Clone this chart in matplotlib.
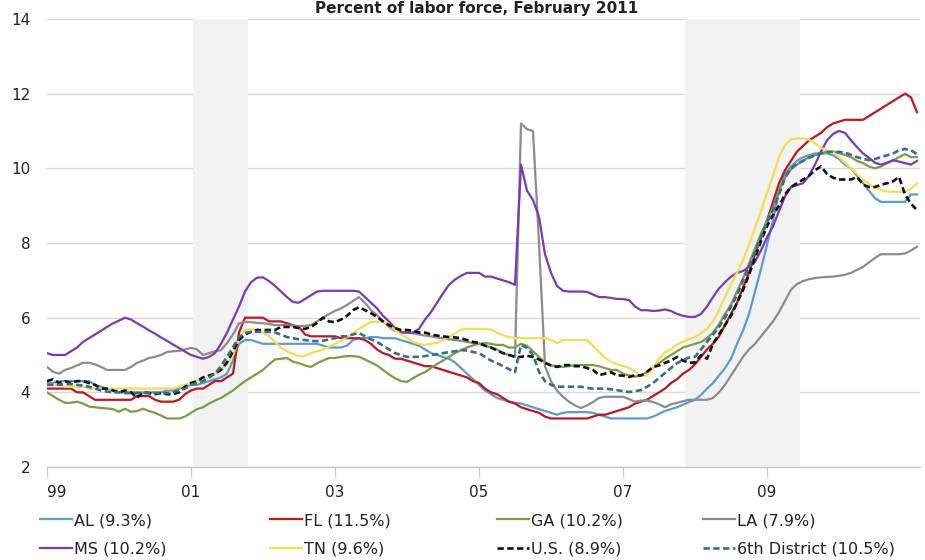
import numpy as np
import matplotlib
matplotlib.use("Agg")
import matplotlib.pyplot as plt
from matplotlib import font_manager

names = {f.name for f in font_manager.fontManager.ttflist}
FONT = "Liberation Sans Narrow" if "Liberation Sans Narrow" in names else "DejaVu Sans"
plt.rcParams["font.family"] = [FONT, "DejaVu Sans"]

# ---- data: monthly unemployment rates, Jan 1999 .. Feb 2011 ----
tick_years = ["99", "01", "03", "05", "07", "09"]
recessions = [(24.3, 33.5), (106.3, 125.5)]  # in months since Jan 1999

al = [
    4.25, 4.25, 4.3, 4.3, 4.3, 4.3, 4.3, 4.3, 4.2, 4.15, 4.1, 4.05,
    4.0, 4.0, 4.0, 4.0, 4.0, 4.0, 4.0, 4.0, 4.05, 4.05, 4.1, 4.15,
    4.2, 4.2, 4.25, 4.3, 4.35, 4.4, 4.5, 4.85, 5.3, 5.4, 5.4, 5.35,
    5.3, 5.3, 5.3, 5.3, 5.3, 5.3, 5.3, 5.3, 5.3, 5.3, 5.25, 5.2,
    5.2, 5.2, 5.25, 5.4, 5.45, 5.45, 5.48, 5.48, 5.45, 5.45, 5.45, 5.4,
    5.35, 5.3, 5.25, 5.15, 5.05, 5.0, 4.95, 4.9, 4.8, 4.65, 4.5, 4.35,
    4.2, 4.05, 3.95, 3.85, 3.8, 3.75, 3.72, 3.7, 3.65, 3.6, 3.55, 3.5,
    3.45, 3.4, 3.45, 3.47, 3.47, 3.47, 3.47, 3.45, 3.4, 3.35, 3.3, 3.3,
    3.3, 3.3, 3.3, 3.3, 3.3, 3.35, 3.42, 3.5, 3.55, 3.6, 3.67, 3.74,
    3.8, 3.93, 4.1, 4.25, 4.45, 4.65, 4.9, 5.3, 5.65, 6.1, 6.7, 7.3,
    7.95, 8.6, 9.4, 9.85, 10.05, 10.2, 10.3, 10.35, 10.4, 10.4, 10.4, 10.35,
    10.25, 10.1, 10.0, 9.8, 9.6, 9.4, 9.2, 9.1, 9.1, 9.1, 9.1, 9.1,
    9.3, 9.3]

fl = [
    4.1, 4.1, 4.1, 4.1, 4.1, 4.0, 4.0, 3.9, 3.8, 3.8, 3.8, 3.8,
    3.8, 3.8, 3.8, 3.9, 3.9, 3.9, 3.8, 3.75, 3.75, 3.75, 3.8, 3.95,
    4.05, 4.1, 4.1, 4.2, 4.3, 4.3, 4.4, 4.5, 5.6, 6.0, 6.0, 6.0,
    6.0, 5.9, 5.9, 5.9, 5.85, 5.8, 5.75, 5.55, 5.5, 5.5, 5.5, 5.5,
    5.5, 5.45, 5.45, 5.45, 5.45, 5.4, 5.3, 5.15, 5.05, 5.0, 4.9, 4.9,
    4.85, 4.8, 4.75, 4.7, 4.7, 4.65, 4.6, 4.55, 4.5, 4.45, 4.4, 4.3,
    4.25, 4.1, 4.0, 3.95, 3.85, 3.75, 3.7, 3.6, 3.55, 3.5, 3.45, 3.35,
    3.3, 3.3, 3.3, 3.3, 3.3, 3.3, 3.3, 3.35, 3.4, 3.4, 3.45, 3.5,
    3.55, 3.6, 3.7, 3.75, 3.8, 3.9, 4.0, 4.1, 4.25, 4.35, 4.5, 4.6,
    4.75, 4.95, 5.15, 5.3, 5.5, 5.8, 6.1, 6.4, 6.8, 7.2, 7.7, 8.15,
    8.6, 9.1, 9.6, 9.95, 10.2, 10.45, 10.6, 10.75, 10.85, 10.95, 11.1, 11.2,
    11.25, 11.3, 11.3, 11.3, 11.3, 11.4, 11.5, 11.6, 11.7, 11.8, 11.9, 12.0,
    11.9, 11.5]

ga = [
    4.0, 3.9, 3.8, 3.72, 3.72, 3.75, 3.7, 3.62, 3.6, 3.58, 3.57, 3.55,
    3.48, 3.56, 3.48, 3.5, 3.56, 3.5, 3.45, 3.38, 3.3, 3.3, 3.3, 3.35,
    3.45, 3.55, 3.6, 3.7, 3.78, 3.85, 3.95, 4.05, 4.18, 4.3, 4.4, 4.5,
    4.6, 4.75, 4.88, 4.9, 4.92, 4.82, 4.78, 4.72, 4.68, 4.78, 4.85, 4.92,
    4.92, 4.95, 4.97, 4.97, 4.95, 4.88, 4.8, 4.72, 4.6, 4.48, 4.38, 4.3,
    4.28, 4.38, 4.47, 4.54, 4.65, 4.76, 4.85, 4.95, 5.05, 5.13, 5.2, 5.26,
    5.3, 5.32, 5.3, 5.27, 5.27, 5.2, 5.2, 5.3, 5.25, 5.1, 4.95, 4.8,
    4.72, 4.7, 4.68, 4.7, 4.73, 4.73, 4.73, 4.73, 4.7, 4.65, 4.6, 4.6,
    4.5, 4.45, 4.42, 4.45, 4.55, 4.65, 4.78, 4.9, 5.0, 5.1, 5.2, 5.25,
    5.3, 5.35, 5.45, 5.6, 5.82, 6.1, 6.35, 6.7, 7.05, 7.45, 7.85, 8.25,
    8.6, 8.95, 9.4, 9.75, 9.97, 10.1, 10.2, 10.3, 10.35, 10.4, 10.45, 10.45,
    10.4, 10.36, 10.3, 10.2, 10.14, 10.05, 10.0, 10.05, 10.14, 10.2, 10.3, 10.38,
    10.3, 10.3]

la = [
    4.68, 4.55, 4.5, 4.6, 4.65, 4.72, 4.79, 4.79, 4.75, 4.68, 4.6, 4.6,
    4.6, 4.6, 4.68, 4.79, 4.85, 4.92, 4.95, 5.0, 5.08, 5.1, 5.11, 5.15,
    5.19, 5.15, 5.0, 5.05, 5.1, 5.13, 5.32, 5.55, 5.85, 5.89, 5.88, 5.86,
    5.85, 5.83, 5.8, 5.8, 5.8, 5.78, 5.78, 5.78, 5.8, 5.9, 6.0, 6.1,
    6.18, 6.25, 6.34, 6.45, 6.55, 6.4, 6.2, 6.07, 5.9, 5.75, 5.65, 5.62,
    5.6, 5.58, 5.55, 5.52, 5.5, 5.47, 5.45, 5.42, 5.4, 5.38, 5.35, 5.32,
    5.3, 5.25, 5.2, 5.15, 5.05, 5.0, 4.95, 11.2, 11.05, 11.0, 8.0, 4.7,
    4.3, 4.05, 3.88, 3.75, 3.65, 3.58, 3.65, 3.74, 3.85, 3.88, 3.88, 3.88,
    3.88, 3.82, 3.75, 3.78, 3.78, 3.74, 3.68, 3.6, 3.68, 3.72, 3.76, 3.8,
    3.8, 3.8, 3.8, 3.85, 4.0, 4.2, 4.45, 4.7, 4.95, 5.15, 5.3, 5.5,
    5.7, 5.9, 6.15, 6.45, 6.75, 6.9, 6.98, 7.03, 7.06, 7.08, 7.09, 7.1,
    7.12, 7.15, 7.2, 7.28, 7.36, 7.48, 7.6, 7.7, 7.7, 7.7, 7.7, 7.72,
    7.8, 7.9]

ms = [
    5.05, 5.0, 5.0, 5.0, 5.1, 5.2, 5.35, 5.45, 5.55, 5.65, 5.75, 5.85,
    5.92, 6.0, 5.95, 5.85, 5.76, 5.66, 5.57, 5.47, 5.38, 5.28, 5.19, 5.09,
    5.0, 4.95, 4.9, 4.95, 5.05, 5.3, 5.6, 5.95, 6.3, 6.7, 6.95, 7.07,
    7.08, 6.98, 6.85, 6.7, 6.55, 6.42, 6.4, 6.5, 6.6, 6.7, 6.72, 6.72,
    6.72, 6.72, 6.72, 6.72, 6.7, 6.55, 6.4, 6.25, 6.05, 5.9, 5.72, 5.6,
    5.6, 5.6, 5.7, 5.95, 6.15, 6.4, 6.65, 6.88, 7.02, 7.12, 7.2, 7.2,
    7.2, 7.1, 7.1, 7.05, 7.0, 6.95, 6.88, 10.1, 9.4, 9.15, 8.7, 7.7,
    7.2, 6.85, 6.72, 6.7, 6.7, 6.7, 6.69, 6.62, 6.55, 6.55, 6.53, 6.5,
    6.5, 6.47, 6.3, 6.2, 6.2, 6.18, 6.19, 6.22, 6.18, 6.1, 6.05, 6.02,
    6.02, 6.1, 6.3, 6.55, 6.78, 6.95, 7.1, 7.2, 7.25, 7.36, 7.5, 7.8,
    8.15, 8.45, 8.85, 9.25, 9.5, 9.55, 9.6, 9.8, 10.1, 10.45, 10.75, 10.92,
    11.0, 10.95, 10.75, 10.57, 10.4, 10.28, 10.15, 10.1, 10.15, 10.22, 10.18, 10.14,
    10.1, 10.2]

tn = [
    4.2, 4.2, 4.2, 4.15, 4.15, 4.15, 4.15, 4.1, 4.1, 4.1, 4.1, 4.1,
    4.1, 4.1, 4.1, 4.1, 4.1, 4.1, 4.1, 4.1, 4.1, 4.1, 4.15, 4.2,
    4.25, 4.3, 4.35, 4.4, 4.5, 4.6, 4.75, 5.0, 5.4, 5.67, 5.7, 5.67,
    5.6, 5.5, 5.35, 5.2, 5.1, 5.03, 4.97, 4.97, 5.05, 5.1, 5.15, 5.22,
    5.3, 5.38, 5.48, 5.58, 5.7, 5.8, 5.89, 5.89, 5.89, 5.8, 5.67, 5.55,
    5.45, 5.35, 5.3, 5.27, 5.3, 5.32, 5.4, 5.48, 5.58, 5.68, 5.7, 5.7,
    5.7, 5.7, 5.68, 5.6, 5.53, 5.48, 5.45, 5.45, 5.45, 5.45, 5.45, 5.45,
    5.4, 5.32, 5.4, 5.4, 5.4, 5.4, 5.4, 5.25, 5.08, 4.93, 4.82, 4.75,
    4.7, 4.66, 4.55, 4.45, 4.45, 4.65, 4.9, 5.07, 5.15, 5.28, 5.36, 5.42,
    5.48, 5.58, 5.7, 5.9, 6.2, 6.55, 6.9, 7.2, 7.54, 7.95, 8.4, 8.85,
    9.34, 9.8, 10.3, 10.62, 10.78, 10.8, 10.8, 10.77, 10.67, 10.55, 10.48, 10.42,
    10.3, 10.15, 10.0, 9.85, 9.7, 9.57, 9.48, 9.42, 9.38, 9.37, 9.37, 9.37,
    9.45, 9.6]

us = [
    4.3, 4.35, 4.25, 4.3, 4.25, 4.3, 4.3, 4.25, 4.2, 4.1, 4.1, 4.05,
    4.0, 4.05, 4.0, 3.85, 4.0, 3.98, 3.95, 3.98, 3.95, 3.95, 4.0, 4.15,
    4.25, 4.3, 4.4, 4.45, 4.5, 4.6, 4.8, 5.1, 5.4, 5.55, 5.62, 5.67,
    5.67, 5.67, 5.67, 5.75, 5.75, 5.75, 5.72, 5.7, 5.75, 5.86, 6.0, 5.9,
    5.88, 5.95, 6.05, 6.2, 6.28, 6.2, 6.12, 6.02, 5.9, 5.8, 5.72, 5.67,
    5.67, 5.65, 5.6, 5.6, 5.55, 5.52, 5.5, 5.48, 5.47, 5.45, 5.4, 5.35,
    5.32, 5.25, 5.2, 5.12, 5.05, 5.0, 4.95, 4.95, 4.98, 4.95, 4.88, 4.79,
    4.72, 4.68, 4.73, 4.73, 4.7, 4.7, 4.65, 4.6, 4.46, 4.5, 4.54, 4.45,
    4.45, 4.41, 4.46, 4.45, 4.55, 4.68, 4.72, 4.79, 4.85, 4.95, 4.85, 4.79,
    4.8, 5.0, 4.9, 5.3, 5.55, 5.8, 6.05, 6.4, 6.74, 7.15, 7.6, 8.05,
    8.45, 8.75, 9.0, 9.3, 9.5, 9.6, 9.7, 9.8, 9.95, 10.05, 9.85, 9.75,
    9.7, 9.7, 9.7, 9.77, 9.56, 9.5, 9.5, 9.56, 9.6, 9.65, 9.77, 9.3,
    9.05, 8.88]

sixth = [
    4.2, 4.2, 4.2, 4.22, 4.22, 4.2, 4.18, 4.15, 4.1, 4.05, 4.02, 4.0,
    4.0, 3.98, 3.98, 3.98, 3.98, 3.98, 3.98, 3.98, 3.98, 4.0, 4.05, 4.1,
    4.2, 4.25, 4.3, 4.4, 4.5, 4.7, 4.95, 5.21, 5.48, 5.59, 5.62, 5.62,
    5.62, 5.62, 5.6, 5.55, 5.48, 5.45, 5.42, 5.4, 5.38, 5.37, 5.38, 5.42,
    5.45, 5.5, 5.5, 5.55, 5.59, 5.5, 5.42, 5.35, 5.25, 5.15, 5.05, 5.0,
    4.95, 4.95, 4.95, 4.97, 5.0, 5.02, 5.05, 5.08, 5.1, 5.13, 5.12, 5.08,
    5.05, 4.95, 4.85, 4.78, 4.7, 4.62, 4.54, 5.27, 5.19, 5.0, 4.55, 4.3,
    4.2, 4.15, 4.15, 4.15, 4.15, 4.15, 4.12, 4.1, 4.1, 4.1, 4.08, 4.06,
    4.03, 4.01, 4.03, 4.06, 4.15, 4.25, 4.38, 4.52, 4.65, 4.78, 4.87, 4.93,
    4.95, 5.15, 5.35, 5.55, 5.75, 6.0, 6.3, 6.6, 7.0, 7.35, 7.75, 8.15,
    8.55, 8.88, 9.3, 9.75, 10.0, 10.12, 10.2, 10.28, 10.35, 10.4, 10.44, 10.44,
    10.44, 10.42, 10.36, 10.3, 10.25, 10.22, 10.25, 10.3, 10.35, 10.4, 10.48, 10.52,
    10.48, 10.38]

labels = ["AL (9.3%)", "FL (11.5%)", "GA (10.2%)", "LA (7.9%)",
          "MS (10.2%)", "TN (9.6%)", "U.S. (8.9%)", "6th District (10.5%)"]
series = [al, fl, ga, la, ms, tn, us, sixth]

# ---- styles ----
colors = ["#5b9bd5", "#c0161c", "#7f9b45", "#8c8c8c",
          "#7b3ab2", "#f6dd4d", "#111111", "#336f8f"]
dashed = [False, False, False, False, False, False, True, True]

fig = plt.figure(figsize=(9.25, 5.6), dpi=100)
ax = fig.add_axes([47 / 925, 1 - 467 / 560, 873 / 925, 448 / 560])

for a, b in recessions:
    ax.axvspan(a, b, color="#f2f2f2", lw=0, zorder=1)

handles = []
for vals, lab, col, dsh in zip(series, labels, colors, dashed):
    x = np.arange(len(vals))
    if dsh:
        ln, = ax.plot(x, vals, color=col, lw=1.9, dashes=(2.4, 1.3),
                      label=lab, zorder=3)
    else:
        ln, = ax.plot(x, vals, color=col, lw=1.6, label=lab, zorder=2)
    handles.append(ln)

ax.set_xlim(0, 145.5)
ax.set_ylim(2, 14)
ax.set_yticks(np.arange(2, 15, 2))
ax.set_xticks(np.arange(len(tick_years)) * 24)
ax.set_xticklabels(tick_years)
ax.yaxis.grid(True, color="#d9d9d9", lw=1)
ax.set_axisbelow(True)
for s in ["top", "right", "left"]:
    ax.spines[s].set_visible(False)
ax.spines["bottom"].set_color("#c8c8c8")
ax.spines["bottom"].set_linewidth(1)
ax.tick_params(axis="y", length=0, pad=12, labelsize=11, labelcolor="#222222")
ax.tick_params(axis="x", length=7, color="#c8c8c8", pad=6, labelsize=11,
               labelcolor="#222222")
ax.get_xticklabels()[0].set_ha("left")

fig.text(0.515, 1 - 1 / 560, "Percent of labor force, February 2011",
         ha="center", va="top", fontsize=11, fontweight="bold",
         color="#222222")

col_x = [40, 270, 497, 703]
for i, cx in enumerate(col_x):
    hs = [handles[i], handles[i + 4]]
    fig.legend(handles=hs, labels=[h.get_label() for h in hs],
               loc="upper left", bbox_to_anchor=(cx / 925, 1 - 513 / 560),
               frameon=False, borderpad=0, borderaxespad=0,
               handlelength=2.0, handletextpad=0.15, labelspacing=0.85,
               fontsize=11.5, labelcolor="#222222")

fig.savefig("out.png", dpi=100)
